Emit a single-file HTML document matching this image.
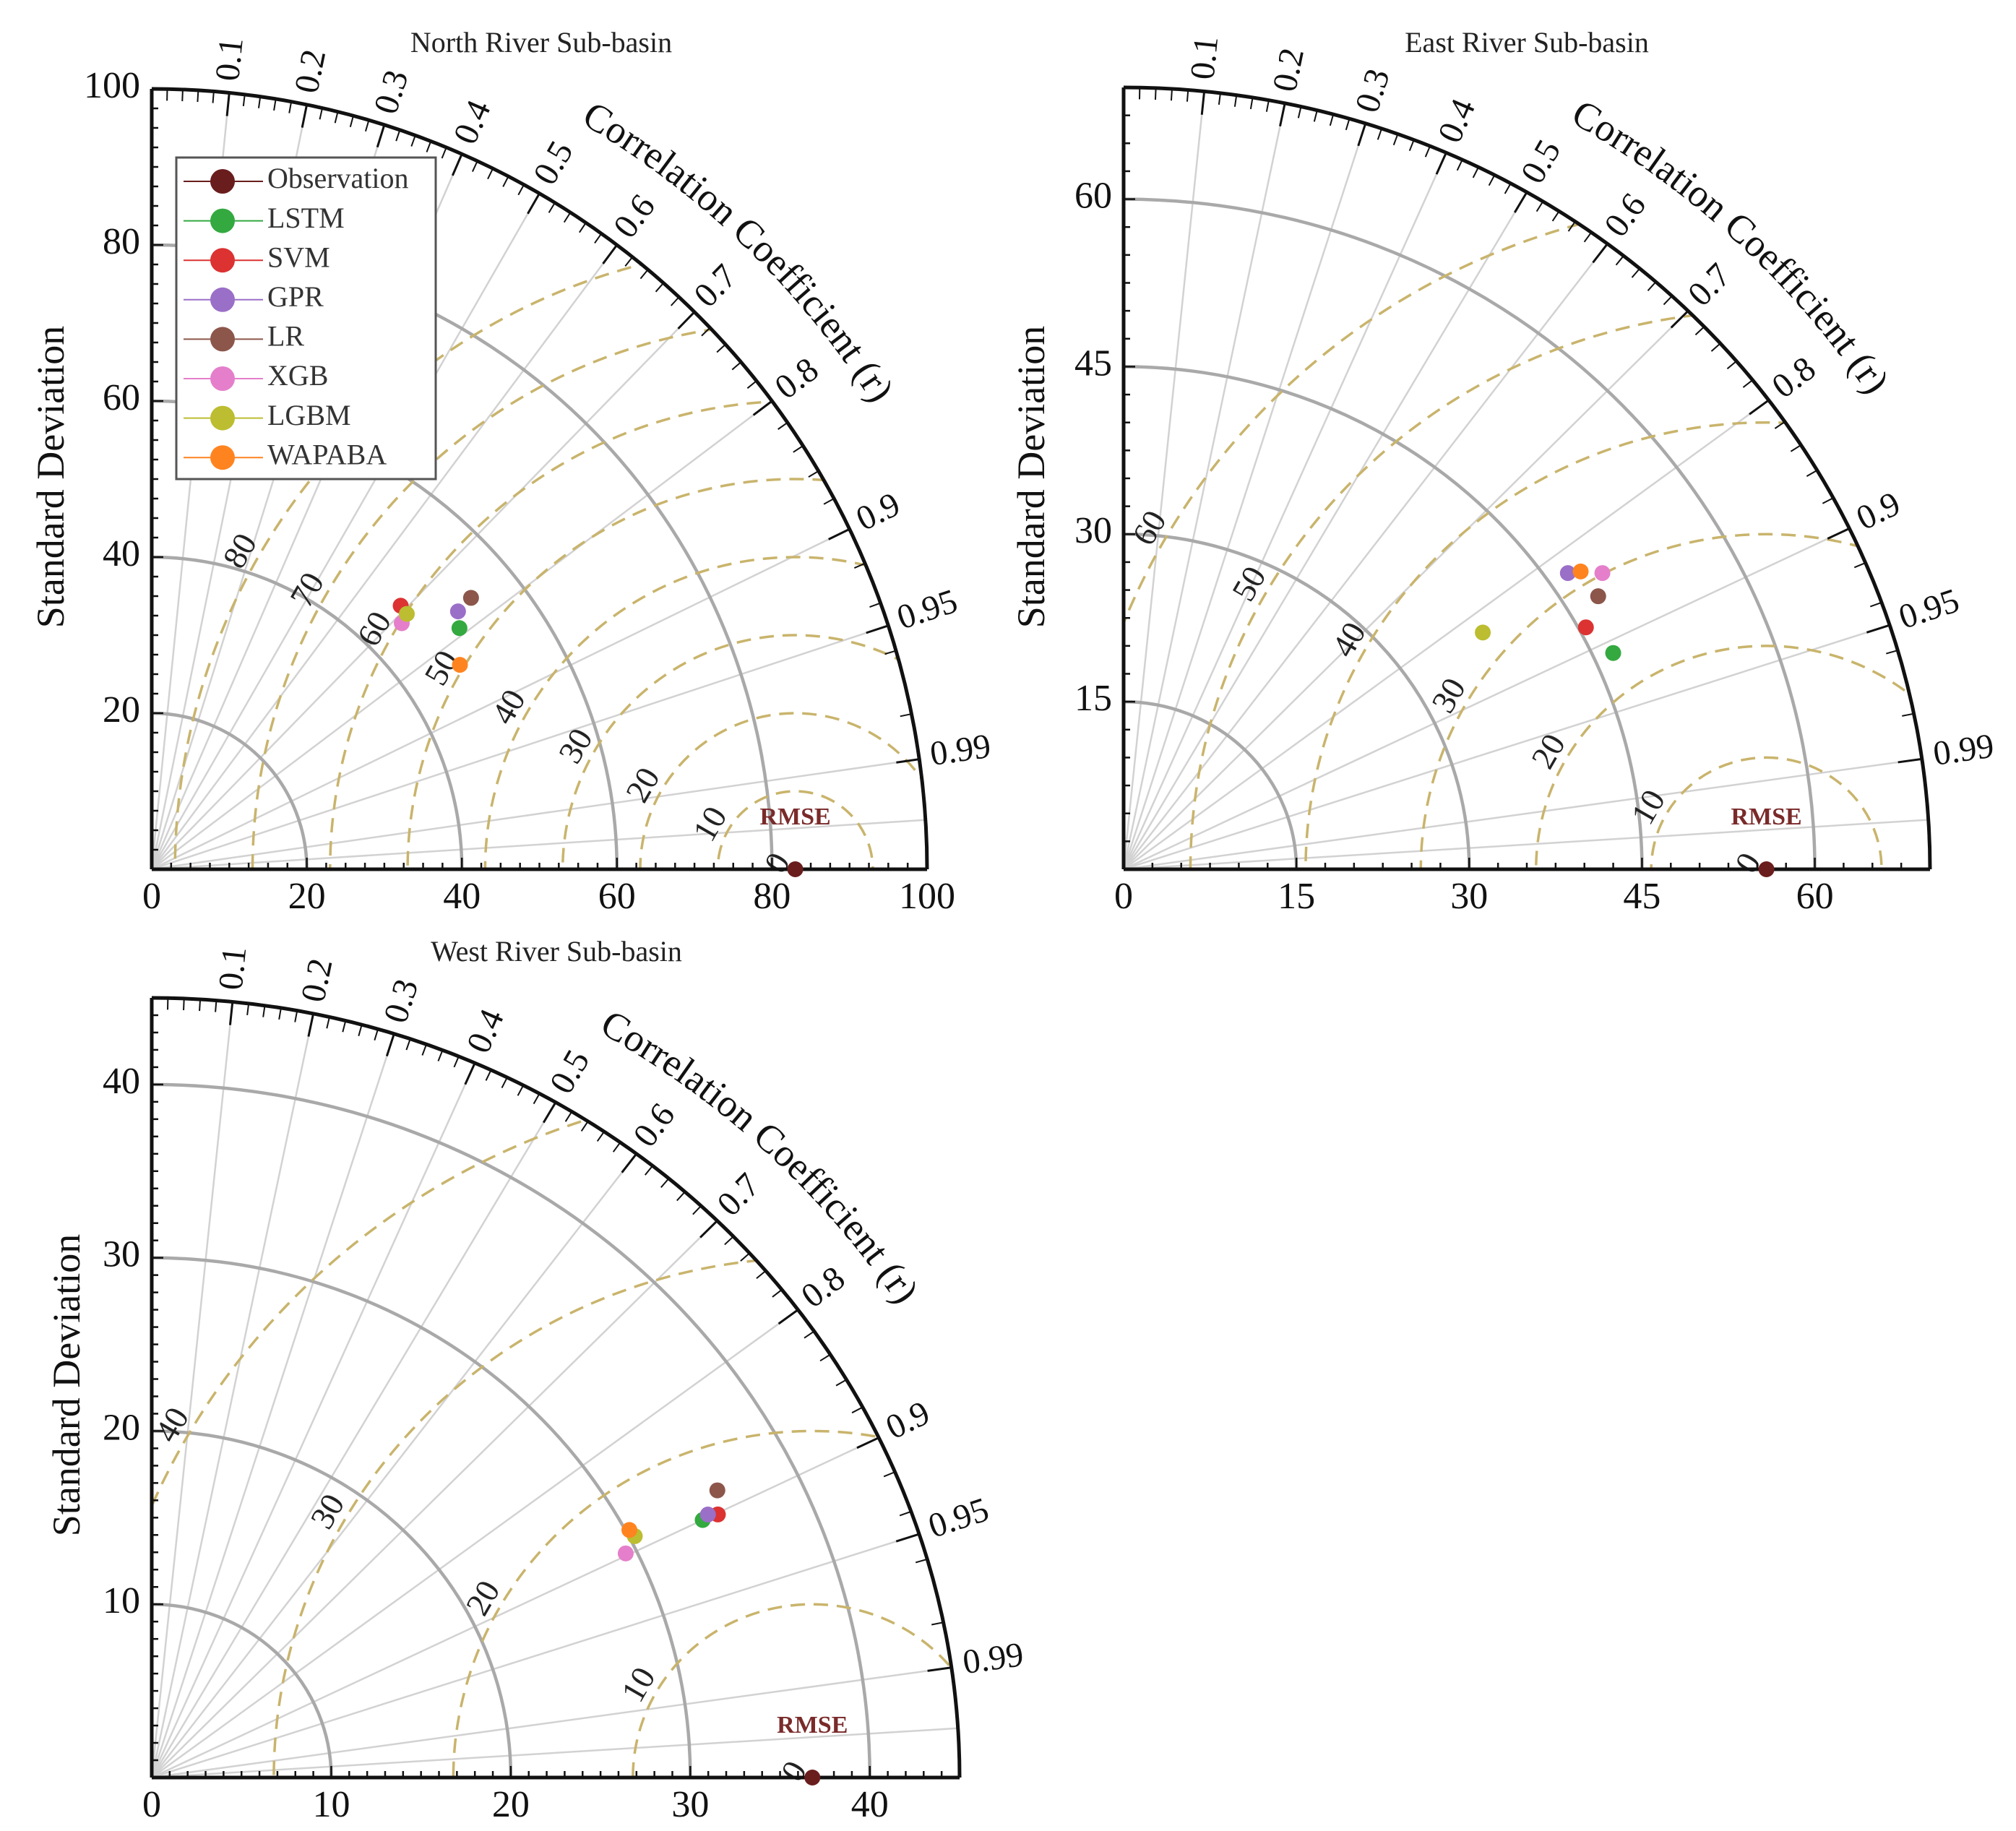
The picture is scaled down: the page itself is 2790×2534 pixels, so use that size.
<!DOCTYPE html>
<html><head><meta charset="utf-8"><style>
html,body{margin:0;padding:0;background:#fff;overflow:hidden;}
svg{display:block;font-family:"Liberation Serif",serif;}
</style></head><body>
<svg id="root" width="2790" height="2534" viewBox="0 0 2790 2534" xmlns="http://www.w3.org/2000/svg">
<rect width="2790" height="2534" fill="#fff"/>
</svg>
<script>
const models = ["LSTM","SVM","GPR","LR","XGB","LGBM","WAPABA"];
const modelColors = ["#33a940","#dc3232","#9a6fc8","#8c564b","#e57fcb","#bcbd30","#ff8420"];
const obsColor = "#6a1d1d";
const northObsStd = [83];
const northStd = [50.3,46.6,51.5,53.9,45.1,46.4,47.6];
const northR = [0.789,0.689,0.767,0.764,0.715,0.709,0.835];
const eastObsStd = [55.8];
const eastStd = [46.7,45.6,46.8,47.9,49.3,37.7,47.8];
const eastR = [0.910,0.880,0.824,0.860,0.843,0.827,0.830];
const westObsStd = [36.8];
const westStd = [34.1,35.0,34.5,35.6,29.4,30.3,30.2];
const westR = [0.900,0.901,0.898,0.885,0.898,0.888,0.881];
const corrTicks = [0.1,0.2,0.3,0.4,0.5,0.6,0.7,0.8,0.9,0.95,0.99];
const corrLabels = ["0.1","0.2","0.3","0.4","0.5","0.6","0.7","0.8","0.9","0.95","0.99"];
const northStdTicks = [20,40,60,80,100];
const eastStdTicks = [15,30,45,60];
const westStdTicks = [10,20,30,40];
const northRmse = [10,20,30,40,50,60,70,80];
const eastRmse = [10,20,30,40,50,60];
const westRmse = [10,20,30,40];

const NS="http://www.w3.org/2000/svg";
const root=document.getElementById('root');
function el(tag,attrs,parent){const e=document.createElementNS(NS,tag);for(const k in attrs)e.setAttribute(k,attrs[k]);(parent||root).appendChild(e);return e;}

function chart(cfg){
  const g=el('g',{});
  
  
  const kx=cfg.rx/cfg.max, ky=cfg.ry/cfg.max;
  const px=x=>cfg.ox+x*kx, py=y=>cfg.oy-y*ky;
  const polar=(s,th)=>[px(s*Math.cos(th)),py(s*Math.sin(th))];
  const id='clip'+cfg.key;
  const cp=el('clipPath',{id:id},g);
  el('path',{d:`M${cfg.ox},${cfg.oy} L${px(cfg.max)},${cfg.oy} A${cfg.rx},${cfg.ry} 0 0 0 ${cfg.ox},${py(cfg.max)} Z`},cp);
  const extra=[0.998];
  corrTicks.concat(extra).forEach(r=>{
    const th=Math.acos(r);const p=polar(cfg.max,th);
    const l=el('line',{x1:cfg.ox,y1:cfg.oy,x2:p[0],y2:p[1],stroke:'#d2d2d2','stroke-width':2.5},g);
    
    
  });
  cfg.stdTicks.forEach(s=>{
    if(s>=cfg.max)return;
    const a=el('path',{d:`M${px(s)},${cfg.oy} A${s*kx},${s*ky} 0 0 0 ${cfg.ox},${py(s)}`,fill:'none',stroke:'#a9a9a9','stroke-width':4.5},g);
    
    
  });
  const obs=cfg.obs[0];
  const cg=el('g',{'clip-path':`url(#${id})`},g);
  cfg.rmse.forEach(r=>{
    const c=el('ellipse',{cx:px(obs),cy:cfg.oy,rx:r*kx,ry:r*ky,fill:'none',stroke:'#c9b46c','stroke-width':3.5,'stroke-dasharray':'20 12'},cg);
    
    
  });
  const ang=150*Math.PI/180;
  [0].concat(cfg.rmse).forEach(r=>{
    const d=r+cfg.max*0.012;
    const x=px(obs+d*Math.cos(ang))-10, y=py(d*Math.sin(ang));
    const t=el('text',{x:x,y:y,'font-size':46,fill:'#222','text-anchor':'middle','dominant-baseline':'middle',transform:`rotate(-60 ${x} ${y})`},g);
    t.textContent=r;
    
    
  });
  const rt=el('text',{x:px(obs),y:cfg.oy-62,'font-size':34,'font-weight':'bold',fill:'#7a2a2a','text-anchor':'middle'},g);
  rt.textContent='RMSE';
  
  
  const oa=el('path',{d:`M${px(cfg.max)},${cfg.oy} A${cfg.rx},${cfg.ry} 0 0 0 ${cfg.ox},${py(cfg.max)}`,fill:'none',stroke:'#111','stroke-width':5},g);
  
  
  for(let r=0.02;r<0.99;r+=0.02){const th=Math.acos(r);const a=polar(cfg.max,th),b=polar(cfg.max*0.985,th);el('line',{x1:a[0],y1:a[1],x2:b[0],y2:b[1],stroke:'#111','stroke-width':2},g);}
  corrTicks.forEach((r,i)=>{
    const th=Math.acos(r);const a=polar(cfg.max,th),b=polar(cfg.max*0.97,th);
    el('line',{x1:a[0],y1:a[1],x2:b[0],y2:b[1],stroke:'#111','stroke-width':3},g);
    const p=polar(cfg.max*1.015,th);const deg=th*180/Math.PI;
    const t=el('text',{x:p[0],y:p[1],'font-size':48,fill:'#111','dominant-baseline':'middle',transform:`rotate(${-deg} ${p[0]} ${p[1]})`},g);
    t.textContent=corrLabels[i];
    
    
  });
  const R=1.105, t1=60*Math.PI/180, t2=22*Math.PI/180;
  const p1=[cfg.ox+R*cfg.rx*Math.cos(t1),cfg.oy-R*cfg.ry*Math.sin(t1)], p2=[cfg.ox+R*cfg.rx*Math.cos(t2),cfg.oy-R*cfg.ry*Math.sin(t2)];
  el('path',{id:'cpath'+cfg.key,d:`M${p1[0]},${p1[1]} A${R*cfg.rx},${R*cfg.ry} 0 0 1 ${p2[0]},${p2[1]}`,fill:'none'},g);
  const ct=el('text',{'font-size':54,fill:'#111'},g);
  
  
  const tp=el('textPath',{href:'#cpath'+cfg.key},ct);tp.textContent='Correlation Coefficient (r)';
  const ax=el('line',{x1:cfg.ox,y1:cfg.oy,x2:cfg.ox,y2:py(cfg.max),stroke:'#111','stroke-width':5},g);
  
  const bx=el('line',{x1:cfg.ox,y1:cfg.oy,x2:px(cfg.max),y2:cfg.oy,stroke:'#111','stroke-width':5},g);
  
  const step=cfg.minor;
  for(let v=step;v<cfg.max;v+=step){
    const major=cfg.stdTicks.some(s=>Math.abs(s-v)<1e-6);
    const L=major?16:9;
    el('line',{x1:cfg.ox,y1:py(v),x2:cfg.ox+L,y2:py(v),stroke:'#111','stroke-width':2.5},g);
    el('line',{x1:px(v),y1:cfg.oy,x2:px(v),y2:cfg.oy-L,stroke:'#111','stroke-width':2.5},g);
  }
  [0].concat(cfg.stdTicks).forEach(v=>{
    if(v>0){const t=el('text',{x:cfg.ox-16,y:py(v),'font-size':52,fill:'#111','text-anchor':'end','dominant-baseline':'middle'},g);t.textContent=v;
      }
    const t2=el('text',{x:px(v),y:cfg.oy+54,'font-size':52,fill:'#111','text-anchor':'middle'},g);t2.textContent=v;
    
  });
  const yl=el('text',{x:cfg.ylx,y:cfg.yly,'font-size':54,fill:'#111','text-anchor':'middle',transform:`rotate(-90 ${cfg.ylx} ${cfg.yly})`},g);
  yl.textContent='Standard Deviation';
  
  const ti=el('text',{x:cfg.tx,y:cfg.ty,'font-size':40,fill:'#222','text-anchor':'middle'},g);
  ti.textContent=cfg.title;
  
  cfg.std.forEach((s,i)=>{
    const p=polar(s,Math.acos(cfg.r[i]));
    const c=el('circle',{cx:p[0],cy:p[1],r:11,fill:modelColors[i]},g);
    
    
  });
  const oc=el('circle',{cx:px(obs),cy:cfg.oy,r:11,fill:obsColor},g);
  
  
}
chart({key:'n',name:'north-river-taylor-diagram',ox:210,oy:1203,rx:1073,ry:1080,max:100,stdTicks:northStdTicks,minor:2.5,rmse:northRmse,obs:northObsStd,std:northStd,r:northR,ylx:88,yly:660,tx:749,ty:72,title:'North River Sub-basin'});
chart({key:'e',name:'east-river-taylor-diagram',ox:1555,oy:1203,rx:1116,ry:1082,max:70,stdTicks:eastStdTicks,minor:2.5,rmse:eastRmse,obs:eastObsStd,std:eastStd,r:eastR,ylx:1445,yly:660,tx:2113,ty:72,title:'East River Sub-basin'});
chart({key:'w',name:'west-river-taylor-diagram',ox:210,oy:2460,rx:1118,ry:1079,max:45,stdTicks:westStdTicks,minor:1,rmse:westRmse,obs:westObsStd,std:westStd,r:westR,ylx:110,yly:1917,tx:770,ty:1330,title:'West River Sub-basin'});
const lg=el('g',{});


el('rect',{x:244,y:218,width:359,height:445,fill:'#fff',stroke:'#555','stroke-width':3},lg);
const legNames=['Observation'].concat(models), legCols=[obsColor].concat(modelColors);
legNames.forEach((n,i)=>{
  const y=251+i*54.6;
  const e=el('g',{},lg);
  
  
  el('line',{x1:254,y1:y,x2:364,y2:y,stroke:legCols[i],'stroke-width':2},e);
  el('circle',{cx:308,cy:y,r:17,fill:legCols[i]},e);
  const t=el('text',{x:370,y:y,'font-size':40,fill:'#333','dominant-baseline':'middle'},e);t.textContent=n;
});
</script>
</body></html>
